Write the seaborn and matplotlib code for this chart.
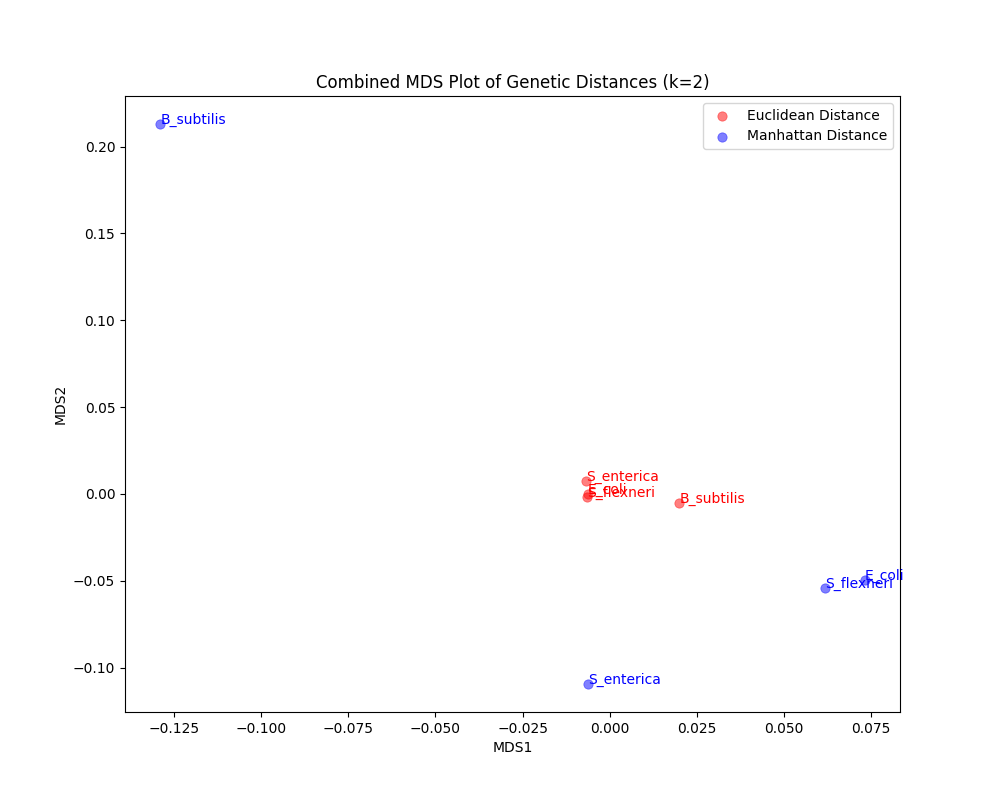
import matplotlib
matplotlib.use("Agg")
import matplotlib.pyplot as plt
import seaborn as sns

names = ["E_coli", "S_enterica", "S_flexneri", "B_subtilis"]
euc_x = [-0.0063, -0.0069, -0.0066, 0.0200]
euc_y = [0.0000, 0.0075, -0.0020, -0.0050]
man_x = [0.0732, -0.0063, 0.0617, -0.1290]
man_y = [-0.0495, -0.1095, -0.0540, 0.2130]

fig, ax = plt.subplots(figsize=(10, 8), dpi=100)
sns.scatterplot(x=euc_x, y=euc_y, color="red", alpha=0.5, s=45, edgecolor=None, label="Euclidean Distance", ax=ax)
sns.scatterplot(x=man_x, y=man_y, color="blue", alpha=0.5, s=45, edgecolor=None, label="Manhattan Distance", ax=ax)
for n, x, y in zip(names, euc_x, euc_y):
    ax.text(x, y, n, color="red", fontsize=10)
for n, x, y in zip(names, man_x, man_y):
    ax.text(x, y, n, color="blue", fontsize=10)

ax.set_title("Combined MDS Plot of Genetic Distances (k=2)")
ax.set_xlabel("MDS1")
ax.set_ylabel("MDS2")
ax.legend(loc="upper right")
fig.savefig("out.png")
